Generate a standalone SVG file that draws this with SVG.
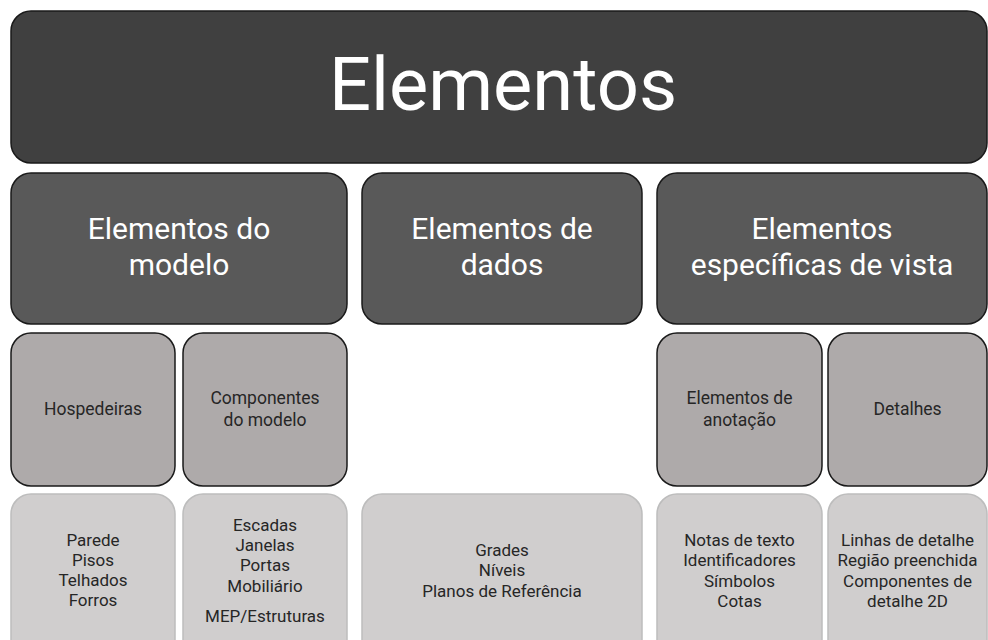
<svg xmlns="http://www.w3.org/2000/svg" width="988" height="640" viewBox="0 0 988 640">
<style>
.t{font-family:Roboto,"Open Sans","Liberation Sans",sans-serif;text-anchor:middle}
.w{fill:#ffffff}
.k{fill:#262626}
.b0{fill:#404040;stroke:#1a1a1a;stroke-width:1.5}
.b1{fill:#595959;stroke:#1a1a1a;stroke-width:1.5}
.b2{fill:#aeaaaa;stroke:#1a1a1a;stroke-width:1.5}
.b3{fill:#d0cece;stroke:#bdbdbd;stroke-width:1.5}
.h2{font-size:30px}
.h3{font-size:17.5px}
.h4{font-size:17px}
</style>
<rect width="988" height="640" fill="#ffffff"/>
<g id="elementos">
<rect class="b0" x="11" y="11" width="976" height="152" rx="20"/>
<text class="t w" x="503" y="110" font-size="74">Elementos</text>
</g>
<g id="elementos-do-modelo">
<rect class="b1" x="11" y="173" width="336" height="151" rx="20"/>
<text class="t w h2" x="179" y="239">Elementos do</text>
<text class="t w h2" x="179" y="274.5">modelo</text>
</g>
<g id="elementos-de-dados">
<rect class="b1" x="362" y="173" width="280" height="151" rx="20"/>
<text class="t w h2" x="502" y="239">Elementos de</text>
<text class="t w h2" x="502" y="274.5">dados</text>
</g>
<g id="elementos-especificas-de-vista">
<rect class="b1" x="657" y="173" width="330" height="151" rx="20"/>
<text class="t w h2" x="822" y="239">Elementos</text>
<text class="t w h2" x="822" y="274.5">específicas de vista</text>
</g>
<g id="hospedeiras">
<rect class="b2" x="11" y="333" width="164" height="153" rx="20"/>
<text class="t k h3" x="93" y="415">Hospedeiras</text>
</g>
<g id="componentes-do-modelo">
<rect class="b2" x="183" y="333" width="164" height="153" rx="20"/>
<text class="t k h3" x="265" y="404">Componentes</text>
<text class="t k h3" x="265" y="426">do modelo</text>
</g>
<g id="elementos-de-anotacao">
<rect class="b2" x="657" y="333" width="165" height="153" rx="20"/>
<text class="t k h3" x="739.5" y="404">Elementos de</text>
<text class="t k h3" x="739.5" y="426">anotação</text>
</g>
<g id="detalhes">
<rect class="b2" x="828" y="333" width="159" height="153" rx="20"/>
<text class="t k h3" x="907.5" y="415">Detalhes</text>
</g>
<g id="lista-hospedeiras">
<rect class="b3" x="11" y="494" width="164" height="170" rx="20"/>
<text class="t k h4" x="93" y="546">Parede</text>
<text class="t k h4" x="93" y="566">Pisos</text>
<text class="t k h4" x="93" y="586">Telhados</text>
<text class="t k h4" x="93" y="606">Forros</text>
</g>
<g id="lista-componentes">
<rect class="b3" x="183" y="494" width="164" height="170" rx="20"/>
<text class="t k h4" x="265" y="531">Escadas</text>
<text class="t k h4" x="265" y="551">Janelas</text>
<text class="t k h4" x="265" y="571">Portas</text>
<text class="t k h4" x="265" y="592">Mobiliário</text>
<text class="t k h4" x="265" y="622">MEP/Estruturas</text>
</g>
<g id="lista-dados">
<rect class="b3" x="362" y="494" width="280" height="170" rx="20"/>
<text class="t k h4" x="502" y="556">Grades</text>
<text class="t k h4" x="502" y="576">Níveis</text>
<text class="t k h4" x="502" y="597">Planos de Referência</text>
</g>
<g id="lista-anotacao">
<rect class="b3" x="657" y="494" width="165" height="170" rx="20"/>
<text class="t k h4" x="739.5" y="546">Notas de texto</text>
<text class="t k h4" x="739.5" y="566">Identificadores</text>
<text class="t k h4" x="739.5" y="587">Símbolos</text>
<text class="t k h4" x="739.5" y="607">Cotas</text>
</g>
<g id="lista-detalhes">
<rect class="b3" x="828" y="494" width="159" height="170" rx="20"/>
<text class="t k h4" x="907.5" y="546">Linhas de detalhe</text>
<text class="t k h4" x="907.5" y="566">Região preenchida</text>
<text class="t k h4" x="907.5" y="587">Componentes de</text>
<text class="t k h4" x="907.5" y="607">detalhe 2D</text>
</g>
<g id="connectors"></g>
</svg>
